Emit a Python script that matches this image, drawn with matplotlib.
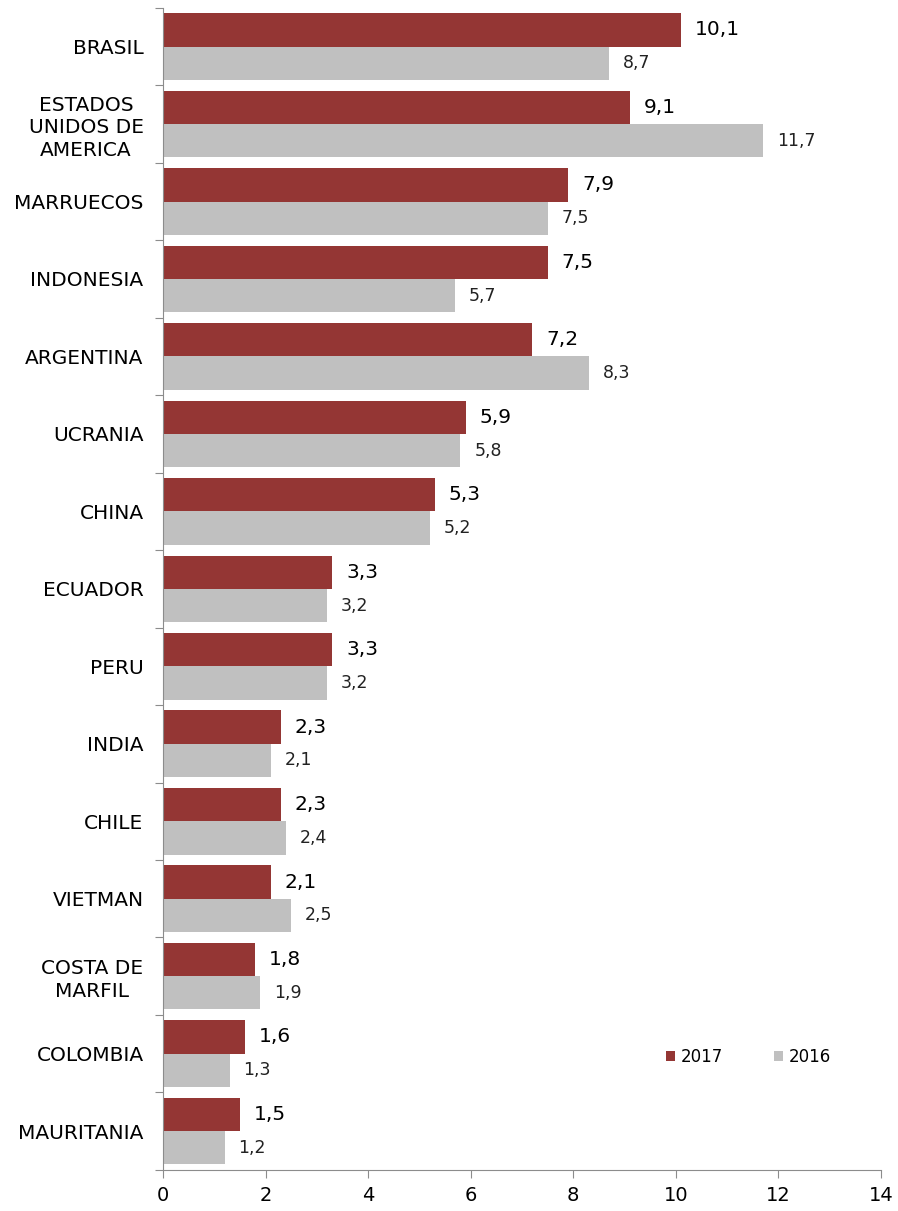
import matplotlib
matplotlib.use("Agg")
import matplotlib.pyplot as plt
import numpy as np

plt.rcParams['font.family'] = ['DejaVu Sans']

# datos
paises = ["BRASIL", "ESTADOS\nUNIDOS DE\nAMERICA", "MARRUECOS", "INDONESIA",
          "ARGENTINA", "UCRANIA", "CHINA", "ECUADOR", "PERU", "INDIA", "CHILE",
          "VIETMAN", "COSTA DE\nMARFIL", "COLOMBIA", "MAURITANIA"]
v2017 = [10.1, 9.1, 7.9, 7.5, 7.2, 5.9, 5.3, 3.3, 3.3, 2.3, 2.3, 2.1, 1.8, 1.6, 1.5]
v2016 = [8.7, 11.7, 7.5, 5.7, 8.3, 5.8, 5.2, 3.2, 3.2, 2.1, 2.4, 2.5, 1.9, 1.3, 1.2]

rojo = "#943634"
gris = "#C0C0C0"
eje = "#8C8C8C"

fig = plt.figure(figsize=(8.98, 12.11), dpi=100)
ax = fig.add_axes([0.1815, 0.034, 0.7995, 0.9595])

n = len(paises)
y = np.arange(n)
h = 0.43

ax.barh(y - h / 2, v2017, height=h, color=rojo, label="2017")
ax.barh(y + h / 2, v2016, height=h, color=gris, label="2016")

for i in range(n):
    ax.annotate(f"{v2017[i]:.1f}".replace(".", ","), (v2017[i], y[i] - h / 2),
                xytext=(10, 0), textcoords="offset points", va="center",
                ha="left", fontsize=14.5, color="black")
    ax.annotate(f"{v2016[i]:.1f}".replace(".", ","), (v2016[i], y[i] + h / 2),
                xytext=(10, 0), textcoords="offset points", va="center",
                ha="left", fontsize=12.5, color="#222222")

ax.set_ylim(n - 0.5, -0.5)
ax.set_xlim(0, 14)
ax.set_xticks(range(0, 15, 2))

# ticks del eje y en los limites de categoria
ax.set_yticks(np.arange(-0.5, n, 1))
ax.set_yticklabels([])
ax.set_yticks(y, minor=True)
ax.set_yticklabels(paises, minor=True, fontsize=14.5, ha="right",
                   multialignment="center", linespacing=1.25)
ax.tick_params(axis="y", which="minor", length=0, pad=14)
ax.tick_params(axis="y", which="major", length=6, color=eje)
ax.tick_params(axis="x", length=6, color=eje, labelsize=14, pad=6)

for s in ["top", "right"]:
    ax.spines[s].set_visible(False)
for s in ["left", "bottom"]:
    ax.spines[s].set_color(eje)

ax.legend(loc="upper left", bbox_to_anchor=(0.68, 0.118), ncol=2, frameon=False,
          fontsize=12, handlelength=0.55, handleheight=0.55, columnspacing=3.1,
          handletextpad=0.3)

fig.savefig("out.png", dpi=100)
